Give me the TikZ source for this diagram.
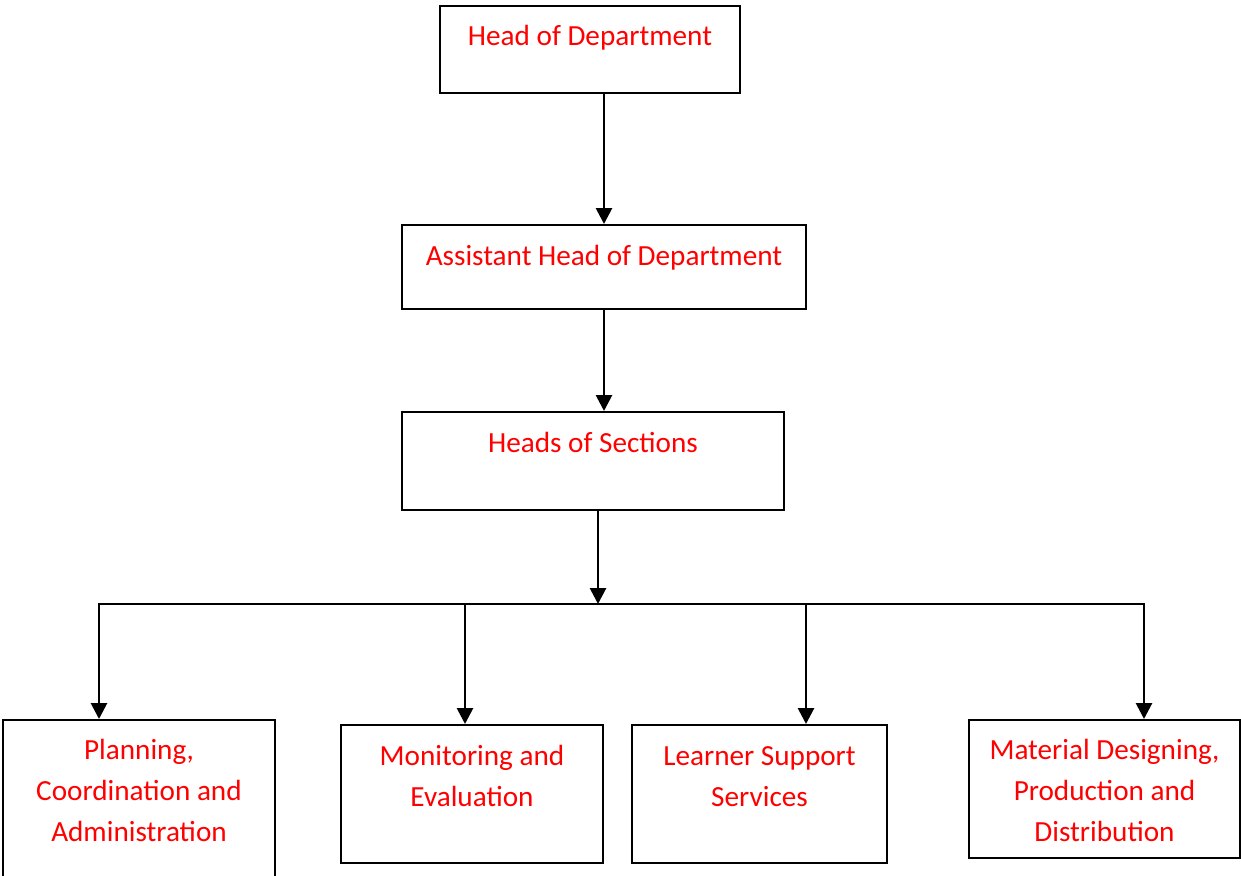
\documentclass[tikz,border=0pt]{standalone}
\usepackage{fontspec}
\setmainfont{Carlito}
\usetikzlibrary{arrows.meta}
\begin{document}
\begin{tikzpicture}[x=1pt,y=-1pt,
  box/.style={draw=black,line width=2pt,rectangle,inner sep=0pt},
  lbl/.style={text=red,font=\fontsize{29.2}{41}\selectfont,align=center,anchor=base,inner sep=0pt},
  arr/.style={line width=2.8pt,-{Triangle[length=16pt,width=16pt]}},
  bar/.style={line width=2.2pt}]
\useasboundingbox (0,0) rectangle (1241,875);
% boxes
\node[box,minimum width=300pt,minimum height=87pt] (hod) at (590,49.5) {};
\node[box,minimum width=404pt,minimum height=84pt] (ahod) at (604,267) {};
\node[box,minimum width=382pt,minimum height=98pt] (hos) at (593,461) {};
\node[box,minimum width=272pt,minimum height=175pt] (b1) at (139,807.5) {};
\node[box,minimum width=262pt,minimum height=138pt] (b2) at (472,794) {};
\node[box,minimum width=255pt,minimum height=138pt] (b3) at (759.5,794) {};
\node[box,minimum width=271pt,minimum height=138pt] (b4) at (1104.5,789) {};
% labels (base anchor = baseline of last line)
\node[lbl] (thod) at ([yshift=-41pt]hod.north) {Head of Department};
\node[lbl] (tahod) at ([yshift=-41pt]ahod.north) {Assistant Head of Department};
\node[lbl] (thos) at ([yshift=-41pt]hos.north) {Heads of Sections};
\node[lbl] (tb1) at ([yshift=-122pt]b1.north) {Planning,\\Coordination and\\Administration};
\node[lbl] (tb2) at ([yshift=-82pt]b2.north) {Monitoring and\\Evaluation};
\node[lbl] (tb3) at ([yshift=-82pt]b3.north) {Learner Support\\Services};
\node[lbl] (tb4) at ([yshift=-122pt]b4.north) {Material Designing,\\Production and\\Distribution};
% junction coordinates
\coordinate (j) at (598,604);
\coordinate (c1) at (99,604);
\coordinate (c2) at (465,604);
\coordinate (c3) at (806,604);
\coordinate (c4) at (1144,604);
% connectors
\draw[arr] (hod.south -| ahod.north) -- (ahod.north);
\draw[arr] (ahod.south) -- (ahod.south |- hos.north);
\draw[arr] (j |- hos.south) -- (j);
\draw[bar,line cap=rect] (c1) -- (c4);
\draw[arr] (c1) -- (c1 |- b1.north);
\draw[arr] (c2) -- (c2 |- b2.north);
\draw[arr] (c3) -- (c3 |- b3.north);
\draw[arr] (c4) -- (c4 |- b4.north);
\end{tikzpicture}
\end{document}
